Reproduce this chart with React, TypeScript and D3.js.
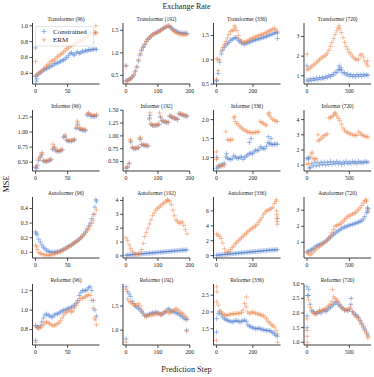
import React from 'react';
import * as d3 from 'd3';

const BLUE = '#4878d0';
const ORANGE = '#ee854a';

const models = ['Transformer', 'Informer', 'Autoformer', 'Reformer'];
const horizons = [96, 192, 336, 720];
const xTickValues = [[0, 50], [0, 100, 200], [0, 200], [0, 500]];
const legendLabels = ['Constrained', 'ERM'];

// y tick labels per row (model) and column (horizon)
const yTickLabels = [
  [['0.4', '0.6', '0.8', '1.0'], ['0.5', '1.0', '1.5'], ['0.5', '1.0', '1.5'], ['1', '2', '3']],
  [['0.50', '0.75', '1.00', '1.25'], ['0.50', '0.75', '1.00', '1.25', '1.50'], ['1.0', '1.5', '2.0'], ['1', '2', '3', '4']],
  [['0.1', '0.2', '0.3', '0.4'], ['0', '1', '2', '3', '4'], ['0', '2', '4', '6'], ['1', '2', '3']],
  [['0.8', '1.0', '1.2'], ['1.0', '1.5'], ['1.5', '2.0', '2.5'], ['1.0', '1.5', '2.0', '2.5', '3.0']],
];

// ---------- Transformer ----------
const transformer96C = [0.36,0.38,0.39,0.41,0.42,0.44,0.45,0.46,0.47,0.48,0.49,0.50,0.52,0.52,0.53,0.54,0.55,0.56,0.57,0.58,0.60,0.62,0.65,0.66,0.64,0.63,0.66,0.67,0.65,0.66,0.68,0.67,0.69,0.68,0.70,0.69,0.70,0.70,0.71,0.70];
const transformer96E = [0.37,0.38,0.40,0.42,0.43,0.45,0.47,0.49,0.51,0.53,0.55,0.56,0.57,0.59,0.61,0.62,0.64,0.65,0.67,0.69,0.71,0.72,0.74,0.75,0.76,0.77,0.78,0.79,0.80,0.81,0.82,0.83,0.85,0.86,0.88,0.90,0.91,0.91,0.92,0.91];
const transformer96COut = [[0, 0.72], [1, 0.3], [2, 0.33], [93, 0.91]];
const transformer96EOut = [[0, 0.55], [94, 1.0]];

const transformer192C = [0.38,0.39,0.41,0.43,0.46,0.50,0.58,0.68,0.82,0.95,1.05,1.12,1.18,1.25,1.30,1.33,1.37,1.40,1.42,1.44,1.46,1.48,1.50,1.52,1.54,1.56,1.58,1.60,1.58,1.56,1.52,1.50,1.48,1.46,1.45,1.44,1.44,1.43,1.44,1.43];
const transformer192E = [0.37,0.38,0.40,0.43,0.47,0.52,0.60,0.70,0.85,0.98,1.08,1.14,1.20,1.26,1.31,1.34,1.37,1.40,1.42,1.44,1.45,1.47,1.49,1.52,1.55,1.57,1.59,1.60,1.57,1.54,1.50,1.47,1.45,1.43,1.42,1.41,1.40,1.40,1.41,1.40];
const transformer192COut = [[0, 0.72]];
const transformer192EOut = [[0, 0.7]];

const transformer336C = [0.58,0.72,0.95,1.12,1.2,1.26,1.3,1.33,1.36,1.4,1.42,1.44,1.46,1.44,1.4,1.37,1.35,1.33,1.32,1.34,1.35,1.36,1.38,1.39,1.4,1.41,1.42,1.43,1.44,1.45,1.46,1.47,1.48,1.5,1.51,1.52,1.53,1.55,1.56,1.55];
const transformer336E = [0.6,0.78,1.0,1.18,1.25,1.32,1.38,1.45,1.52,1.58,1.6,1.62,1.66,1.6,1.5,1.42,1.38,1.36,1.36,1.38,1.39,1.41,1.43,1.44,1.46,1.47,1.49,1.5,1.51,1.52,1.53,1.55,1.56,1.58,1.6,1.61,1.63,1.65,1.62,1.58];
const transformer336COut = [[0, 0.56], [335, 1.44]];
const transformer336EOut = [[2, 1.02], [6, 1.0], [100, 1.7]];

const transformer720C = [0.78,0.72,0.84,0.76,0.86,0.78,0.88,0.8,0.9,0.83,0.92,0.86,0.96,0.9,1.02,0.96,1.06,1.04,1.18,1.16,1.32,1.28,1.3,1.14,1.16,1.04,1.1,0.98,1.06,0.96,1.04,0.94,1.06,0.98,1.06,0.96,1.08,1.0,1.06,1.02];
const transformer720E = [1.3,1.35,1.4,1.48,1.55,1.6,1.68,1.75,1.82,1.9,1.95,2.0,2.05,2.15,2.3,2.5,2.7,2.9,3.1,3.3,3.45,3.4,3.2,2.95,2.7,2.5,2.35,2.2,2.1,2.0,1.9,1.85,1.8,1.85,2.05,2.1,1.95,1.75,1.6,1.5];
const transformer720COut = [[0, 1.5], [380, 1.5], [400, 1.4]];
const transformer720EOut = [[0, 2.1], [380, 3.55], [715, 1.75]];

// ---------- Informer ----------
const informer96C = [0.41,0.44,0.53,0.58,0.62,0.52,0.51,0.51,0.52,0.53,0.54,0.71,0.74,0.69,0.68,0.68,0.69,0.7,0.91,0.93,0.86,0.85,0.85,0.85,0.86,0.87,1.06,1.12,1.05,1.04,1.03,1.03,1.02,1.28,1.3,1.27,1.26,1.26,1.26,1.27];
const informer96E = [0.42,0.45,0.55,0.6,0.64,0.53,0.52,0.52,0.53,0.54,0.55,0.73,0.76,0.7,0.69,0.69,0.7,0.71,0.93,0.95,0.88,0.86,0.86,0.86,0.87,0.88,1.08,1.15,1.07,1.06,1.05,1.05,1.04,1.3,1.32,1.29,1.28,1.28,1.28,1.29];
const informer96COut = [[2, 0.4]];
const informer96EOut = [[10, 0.66], [27, 0.8], [65, 1.18]];

const informer192C = [0.37,0.39,0.46,0.88,0.77,0.75,0.75,0.76,0.77,0.93,0.83,0.82,0.81,0.81,0.8,1.33,1.22,1.2,1.2,1.2,1.21,1.22,1.36,1.29,1.28,1.27,1.26,1.26,1.38,1.37,1.35,1.34,1.33,1.32,1.43,1.42,1.41,1.4,1.39,1.38];
const informer192E = [0.38,0.4,0.47,0.9,0.78,0.76,0.76,0.77,0.78,0.95,0.84,0.83,0.82,0.82,0.81,1.35,1.24,1.21,1.21,1.21,1.22,1.23,1.38,1.3,1.29,1.28,1.27,1.27,1.4,1.38,1.36,1.35,1.34,1.33,1.44,1.43,1.42,1.41,1.4,1.39];
const informer192COut = [[75, 1.4]];
const informer192EOut = [[13, 0.93], [45, 0.97], [75, 1.45], [105, 1.45]];

const informer336C = [0.72,0.75,0.78,0.8,0.83,0.85,1.02,0.98,0.96,0.95,0.97,1.05,1.02,0.99,0.98,1.0,1.03,0.95,1.0,1.04,1.07,1.1,1.12,1.1,1.15,1.2,1.18,1.2,1.28,1.25,1.24,1.23,1.3,1.4,1.37,1.35,1.34,1.35,1.36,1.35];
const informer336E = [0.95,0.8,0.78,0.77,0.78,0.8,1.68,1.47,1.46,1.46,1.48,2.05,1.95,1.9,1.86,1.82,1.78,1.75,1.72,1.7,1.68,1.66,1.66,1.65,1.66,1.66,1.67,1.68,1.95,1.92,1.9,1.87,1.85,2.15,2.1,2.05,2.0,1.98,1.96,1.95];
const informer336COut = [[0, 1.0], [55, 1.1], [180, 1.4], [190, 1.5], [285, 1.55], [300, 1.5]];
const informer336EOut = [[0, 1.15], [5, 1.0], [100, 2.08], [290, 2.18]];

const informer720C = [1.45,1.4,0.85,1.1,0.95,1.2,0.95,1.15,1.0,1.2,1.05,1.2,1.0,1.2,1.05,1.25,1.05,1.2,1.1,1.25,1.1,1.2,1.05,1.2,1.1,1.25,1.1,1.2,1.1,1.25,1.15,1.2,1.1,1.25,1.15,1.2,1.15,1.25,1.2,1.2];
const informer720E = [1.05,1.1,1.55,1.75,1.45,1.4,1.42,2.6,2.65,2.75,2.85,2.95,3.0,3.05,4.1,4.15,4.2,4.3,4.4,4.25,4.1,3.95,3.7,3.45,3.3,3.2,3.15,3.1,3.05,3.0,2.98,2.97,2.95,3.2,3.1,3.0,2.95,2.9,2.88,2.85];
const informer720COut = [[20, 1.5], [30, 0.8]];
const informer720EOut = [[60, 1.85], [130, 3.0], [330, 4.45]];

// ---------- Autoformer ----------
const autoformer96C = [0.24,0.22,0.19,0.17,0.15,0.135,0.125,0.115,0.108,0.103,0.1,0.1,0.1,0.102,0.105,0.107,0.11,0.115,0.12,0.125,0.13,0.14,0.145,0.15,0.16,0.165,0.175,0.18,0.19,0.2,0.21,0.225,0.24,0.26,0.28,0.3,0.33,0.36,0.41,0.45];
const autoformer96E = [0.15,0.12,0.1,0.092,0.088,0.085,0.082,0.08,0.08,0.08,0.082,0.085,0.088,0.092,0.097,0.1,0.105,0.11,0.12,0.125,0.13,0.137,0.145,0.15,0.158,0.165,0.172,0.18,0.19,0.2,0.21,0.22,0.235,0.25,0.26,0.28,0.3,0.32,0.36,0.39];
const autoformer96COut = [[1, 0.23], [94, 0.46]];
const autoformer96EOut = [[2, 0.14]];

const autoformer192C = [0.05,0.06,0.07,0.08,0.09,0.1,0.11,0.12,0.13,0.14,0.15,0.16,0.17,0.18,0.19,0.2,0.21,0.22,0.23,0.24,0.25,0.26,0.27,0.28,0.29,0.3,0.31,0.32,0.33,0.34,0.35,0.36,0.37,0.38,0.39,0.4,0.41,0.42,0.43,0.44];
const autoformer192E = [1.3,1.1,0.8,0.55,0.35,0.2,0.12,0.1,0.12,0.2,0.45,0.9,1.4,1.7,2.0,2.3,2.6,2.9,3.1,3.3,3.4,3.5,3.6,3.7,3.8,3.9,3.95,4.0,3.95,3.7,3.3,2.9,2.6,2.5,2.35,2.4,2.45,2.2,1.9,1.6];
const autoformer192COut = [];
const autoformer192EOut = [[130, 4.05]];

const autoformer336C = [0.05,0.07,0.09,0.11,0.13,0.15,0.17,0.19,0.21,0.23,0.25,0.27,0.29,0.31,0.33,0.35,0.37,0.39,0.41,0.43,0.45,0.47,0.49,0.51,0.53,0.55,0.57,0.59,0.61,0.63,0.65,0.67,0.69,0.71,0.73,0.75,0.76,0.77,0.78,0.8];
const autoformer336E = [2.9,2.75,2.6,2.3,1.7,0.9,0.45,0.4,0.55,0.8,1.1,1.3,1.6,1.8,2.0,2.2,2.4,2.6,2.8,3.0,3.2,3.4,3.55,3.7,3.85,4.0,4.2,4.5,4.8,5.1,5.5,5.8,6.0,6.1,6.2,6.3,6.5,7.0,7.3,5.0];
const autoformer336COut = [];
const autoformer336EOut = [[329, 7.5], [330, 6.0], [331, 5.5], [332, 5.0], [333, 4.6], [334, 4.2]];

const autoformer720C = [0.4,0.45,0.5,0.55,0.62,0.7,0.78,0.82,0.86,0.9,0.95,1.0,1.08,1.15,1.25,1.32,1.42,1.5,1.58,1.65,1.72,1.78,1.85,1.9,1.95,1.98,2.02,2.05,2.1,2.12,2.15,2.18,2.22,2.25,2.3,2.35,2.45,2.6,2.85,3.1];
const autoformer720E = [0.4,0.3,0.2,0.3,0.4,0.5,0.6,0.68,0.75,0.82,0.9,0.98,1.05,1.15,1.28,1.4,1.6,1.8,2.0,2.05,2.1,2.12,2.2,2.3,2.4,2.5,2.6,2.65,2.7,2.75,2.8,2.85,2.95,3.05,3.15,3.3,3.45,3.6,3.55,3.0];
const autoformer720COut = [[715, 3.15], [719, 2.9]];
const autoformer720EOut = [[700, 3.65]];

// ---------- Reformer ----------
const reformer96C = [0.84,0.83,0.82,0.84,0.88,0.92,0.95,0.96,0.95,0.94,0.93,0.93,0.95,0.96,0.96,0.97,0.98,0.99,1.0,1.0,1.01,1.02,1.02,1.03,1.04,1.05,1.07,1.1,1.15,1.18,1.2,1.2,1.2,1.21,1.23,1.24,1.2,1.1,1.0,0.94];
const reformer96E = [0.84,0.82,0.81,0.82,0.83,0.85,0.87,0.88,0.87,0.86,0.85,0.84,0.84,0.85,0.86,0.87,0.89,0.92,0.95,0.97,0.98,1.0,0.99,0.98,0.99,1.02,1.05,1.08,1.1,1.12,1.12,1.13,1.14,1.15,1.16,1.15,1.1,1.02,0.92,0.85];
const reformer96COut = [[0, 0.69]];
const reformer96EOut = [[0, 0.67], [93, 0.9]];

const reformer192C = [1.9,1.8,1.75,1.7,1.6,1.55,1.5,1.48,1.45,1.42,1.38,1.35,1.3,1.3,1.32,1.33,1.35,1.36,1.35,1.38,1.36,1.35,1.33,1.32,1.35,1.38,1.4,1.45,1.42,1.4,1.38,1.38,1.36,1.35,1.33,1.3,1.28,1.25,1.23,1.22];
const reformer192E = [1.85,1.65,1.6,1.58,1.55,1.52,1.5,1.52,1.55,1.5,1.42,1.35,1.3,1.28,1.3,1.32,1.3,1.33,1.32,1.35,1.33,1.35,1.32,1.35,1.36,1.38,1.4,1.36,1.35,1.38,1.4,1.42,1.45,1.42,1.4,1.36,1.35,1.32,1.28,1.25];
const reformer192COut = [[0, 0.82], [190, 1.0]];
const reformer192EOut = [[0, 0.75], [190, 0.98]];

const reformer336C = [1.8,1.95,2.0,1.92,1.85,1.8,1.77,1.75,1.73,1.72,1.7,1.72,1.74,1.75,1.72,1.7,1.72,1.74,1.76,1.72,1.62,1.58,1.56,1.53,1.52,1.5,1.5,1.52,1.5,1.48,1.47,1.46,1.45,1.45,1.44,1.42,1.38,1.35,1.3,1.28];
const reformer336E = [2.3,2.2,2.05,2.0,1.95,1.92,1.9,1.9,1.92,1.93,1.95,1.94,1.95,1.96,1.95,1.97,1.98,2.05,2.25,2.15,2.0,1.95,1.97,2.0,1.98,1.96,1.95,1.93,1.92,1.9,1.88,1.85,1.8,1.72,1.68,1.62,1.6,1.55,1.45,1.35];
const reformer336COut = [[0, 1.4]];
const reformer336EOut = [[0, 2.75], [2, 2.6], [0, 1.15], [165, 2.45], [335, 1.1]];

const reformer720C = [1.9,2.6,2.3,2.1,2.05,2.0,1.98,2.0,2.05,2.0,2.08,2.1,2.05,2.1,2.15,2.2,2.25,2.3,2.35,2.38,2.3,2.25,2.2,2.15,2.1,2.1,2.08,2.12,2.3,2.05,2.0,1.95,1.9,1.85,1.75,1.65,1.55,1.45,1.35,1.25];
const reformer720E = [1.8,2.45,2.2,2.05,2.0,1.95,2.0,2.05,2.1,2.08,2.1,2.12,2.15,2.2,2.25,2.3,2.4,2.55,2.5,2.45,2.4,2.3,2.2,2.15,2.1,2.12,2.1,2.15,2.2,2.05,1.95,1.9,1.85,1.8,1.7,1.6,1.5,1.4,1.3,1.2];
const reformer720COut = [[0, 2.9], [5, 2.6], [20, 2.8], [520, 2.5], [0, 1.5]];
const reformer720EOut = [[0, 1.0], [2, 1.2], [0, 1.4], [300, 2.8], [719, 1.15]];

const constrainedSeries = [
  [transformer96C, transformer192C, transformer336C, transformer720C],
  [informer96C, informer192C, informer336C, informer720C],
  [autoformer96C, autoformer192C, autoformer336C, autoformer720C],
  [reformer96C, reformer192C, reformer336C, reformer720C],
];
const ermSeries = [
  [transformer96E, transformer192E, transformer336E, transformer720E],
  [informer96E, informer192E, informer336E, informer720E],
  [autoformer96E, autoformer192E, autoformer336E, autoformer720E],
  [reformer96E, reformer192E, reformer336E, reformer720E],
];
const constrainedOutliers = [
  [transformer96COut, transformer192COut, transformer336COut, transformer720COut],
  [informer96COut, informer192COut, informer336COut, informer720COut],
  [autoformer96COut, autoformer192COut, autoformer336COut, autoformer720COut],
  [reformer96COut, reformer192COut, reformer336COut, reformer720COut],
];
const ermOutliers = [
  [transformer96EOut, transformer192EOut, transformer336EOut, transformer720EOut],
  [informer96EOut, informer192EOut, informer336EOut, informer720EOut],
  [autoformer96EOut, autoformer192EOut, autoformer336EOut, autoformer720EOut],
  [reformer96EOut, reformer192EOut, reformer336EOut, reformer720EOut],
];

const W = 374;
const H = 377;
const colLeft = [32.5, 123, 213.5, 304];
const colW = 67;
const rowTop = [23, 110, 197, 284];
const rowH = 61;
const FONT = '"Liberation Serif", "Times New Roman", serif';
const AXIS = '#262626';
const R = 2.5;

function markerPath(points: number[][], x: any, y: any) {
  return points
    .map(([a, b]) => {
      const px = x(a);
      const py = y(b);
      return `M${(px - R).toFixed(2)},${py.toFixed(2)}H${(px + R).toFixed(2)}M${px.toFixed(2)},${(py - R).toFixed(2)}V${(py + R).toFixed(2)}`;
    })
    .join('');
}

function Panel({ r, c }: { r: number; c: number }) {
  const left = colLeft[c];
  const top = rowTop[r];
  const bottom = top + rowH;
  const hz = horizons[c] - 1;
  const cs = constrainedSeries[r][c];
  const es = ermSeries[r][c];
  const co = constrainedOutliers[r][c];
  const eo = ermOutliers[r][c];
  const x = d3.scaleLinear().domain([-0.05 * hz, 1.05 * hz]).range([left, left + colW]);
  const all = [...cs, ...es, ...co.map((d) => d[1]), ...eo.map((d) => d[1])];
  const [mn, mx] = d3.extent(all) as [number, number];
  const pad = (mx - mn) * 0.05;
  const y = d3.scaleLinear().domain([mn - pad, mx + pad]).range([bottom, top]);
  const toPts = (vals: number[], out: number[][]) => {
    const step = hz / (vals.length - 1);
    return [...vals.map((v, i) => [i * step, v]), ...out];
  };
  const cPts = toPts(cs, co);
  const ePts = toPts(es, eo);
  const yt = yTickLabels[r][c];
  return (
    <g>
      <text x={left + colW / 2} y={top - 2.5} fontSize={5.4} textAnchor="middle" fontFamily={FONT} fill="#222">
        {`${models[r]} (${horizons[c]})`}
      </text>
      <path d={markerPath(cPts, x, y)} stroke={BLUE} strokeWidth={0.85} strokeOpacity={0.6} fill="none" />
      <path d={markerPath(ePts, x, y)} stroke={ORANGE} strokeWidth={0.85} strokeOpacity={0.6} fill="none" />
      <line x1={left} x2={left} y1={top} y2={bottom} stroke={AXIS} strokeWidth={0.9} />
      <line x1={left} x2={left + colW} y1={bottom} y2={bottom} stroke={AXIS} strokeWidth={0.9} />
      {yt.map((lab) => {
        const v = parseFloat(lab);
        const py = y(v);
        return (
          <g key={lab}>
            <line x1={left - 3} x2={left} y1={py} y2={py} stroke={AXIS} strokeWidth={0.8} />
            <text x={left - 4.5} y={py} dy="0.33em" fontSize={5.8} textAnchor="end" fontFamily={FONT} fill="#222">
              {lab}
            </text>
          </g>
        );
      })}
      {xTickValues[c].map((v) => {
        const px = x(v);
        return (
          <g key={v}>
            <line x1={px} x2={px} y1={bottom} y2={bottom + 3} stroke={AXIS} strokeWidth={0.8} />
            <text x={px} y={bottom + 9} fontSize={5.8} textAnchor="middle" fontFamily={FONT} fill="#222">
              {v}
            </text>
          </g>
        );
      })}
    </g>
  );
}

function Legend() {
  const lx = 35.5;
  const ly = 26.5;
  const items = [
    { label: legendLabels[0], color: BLUE },
    { label: legendLabels[1], color: ORANGE },
  ];
  return (
    <g>
      <rect x={lx} y={ly} width={58} height={19.5} rx={1.5} fill="#fff" fillOpacity={0.8} stroke="#d0d0d0" strokeWidth={0.6} />
      {items.map((it, i) => {
        const cy = ly + 5 + i * 8.3;
        return (
          <g key={it.label}>
            <path d={`M${lx + 8.5 - R},${cy}H${lx + 8.5 + R}M${lx + 8.5},${cy - R}V${cy + R}`} stroke={it.color} strokeWidth={0.8} strokeOpacity={0.7} />
            <text x={lx + 17.5} y={cy} dy="0.33em" fontSize={7} fontFamily={FONT} fill="#222">
              {it.label}
            </text>
          </g>
        );
      })}
    </g>
  );
}

export default function App() {
  return (
    <svg width={W} height={H} style={{ position: 'absolute', left: 0, top: 0, background: '#fff' }}>
      <rect x={0} y={0} width={W} height={H} fill="#fff" />
      <text x={186.5} y={8.8} fontSize={8} textAnchor="middle" fontFamily={FONT} fill="#222">
        Exchange Rate
      </text>
      <text transform="translate(8.5,184) rotate(-90)" fontSize={8.4} textAnchor="middle" fontFamily={FONT} fill="#222">
        MSE
      </text>
      <text x={186.5} y={372} fontSize={8.2} textAnchor="middle" fontFamily={FONT} fill="#222">
        Prediction Step
      </text>
      {[0, 1, 2, 3].map((r) => [0, 1, 2, 3].map((c) => <Panel key={`${r}-${c}`} r={r} c={c} />))}
      <Legend />
    </svg>
  );
}
